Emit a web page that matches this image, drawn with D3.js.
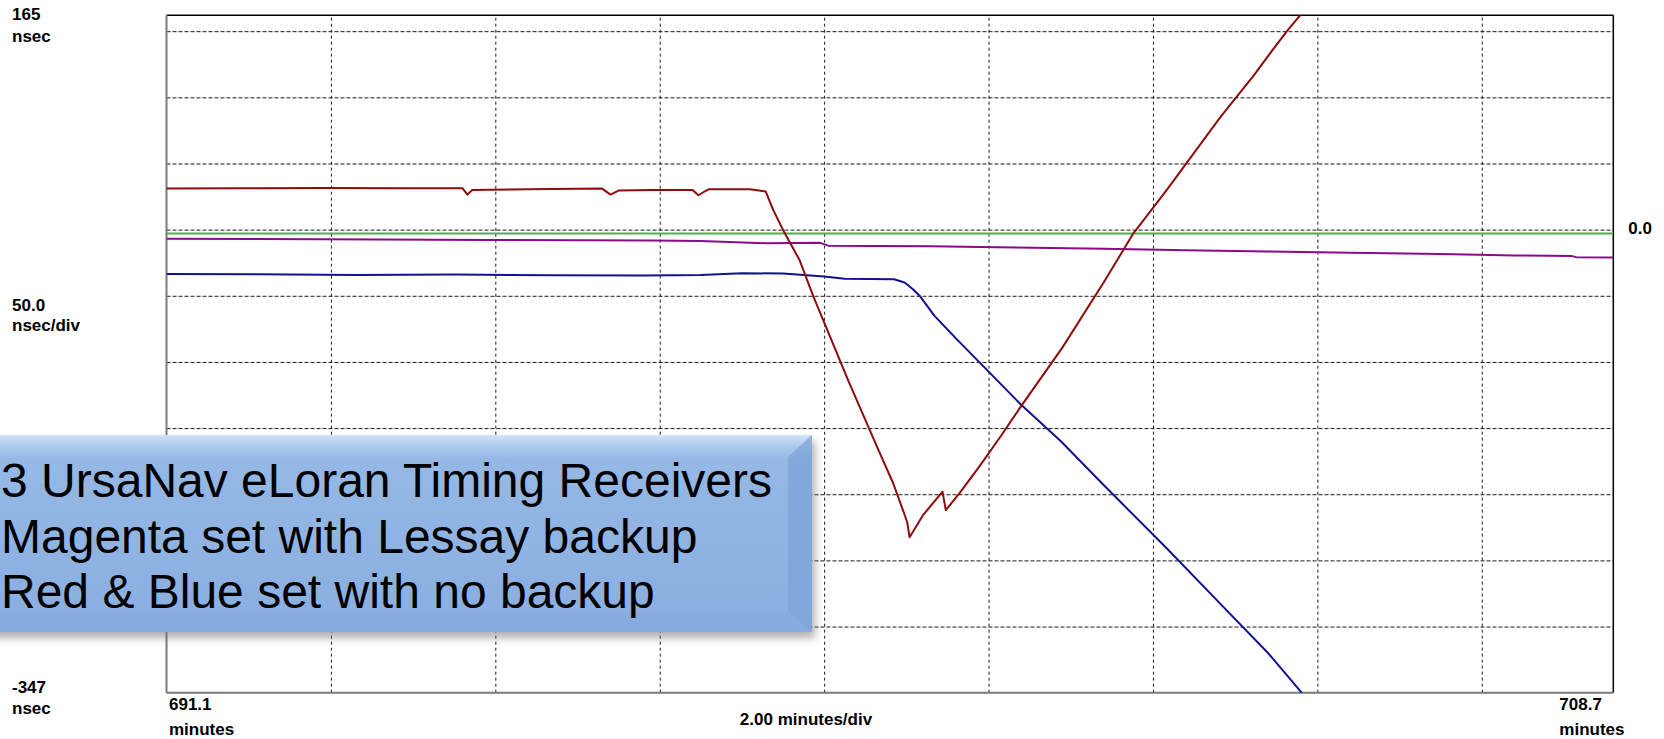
<!DOCTYPE html>
<html>
<head>
<meta charset="utf-8">
<script src="https://cdn.jsdelivr.net/npm/d3@7"></script>
<style>
  html, body { margin: 0; padding: 0; background: #ffffff; }
  svg { display: block; }
  .lbl { font-family: "Liberation Sans", Arial, sans-serif; font-weight: bold; font-size: 17px; fill: #000; }
  .note { font-family: "Liberation Sans", Arial, sans-serif; font-size: 48px; fill: #000; }
</style>
</head>
<body>
<svg id="chart" width="1664" height="739"></svg>
<script>
// Time window (minutes) and phase window (nsec)
const xDomain = [691.1, 708.7];
const yDomain = [-347, 165];
const xGrid = [693.1, 695.1, 697.1, 699.1, 701.1, 703.1, 705.1, 707.1];
const yGrid = [-297, -247, -197, -147, -97, -47, 3, 53, 103, 153];

// Reference line
const greenMin  = [691.1, 708.7];
const greenNsec = [0, 0];

// Magenta receiver (Lessay backup)
const magentaMin  = [691.1, 693.0, 695.0, 697.0, 697.6, 698.4, 699.05, 699.15, 700.4, 701.2, 702.5, 703.5, 704.5, 705.5, 706.6, 707.5, 708.2, 708.25, 708.7];
const magentaNsec = [-3.9, -4.3, -4.8, -5.2, -5.5, -7.3, -7.0, -9.1, -9.5, -10.3, -11.5, -12.5, -13.5, -14.5, -15.5, -16.5, -17.0, -17.8, -18.0];

// Blue receiver (no backup)
const blueMin  = [691.1, 692.2, 693.4, 694.6, 695.8, 696.9, 697.6, 698.1, 698.6, 699.1, 699.35, 699.95, 700.08, 700.18, 700.27, 700.44, 700.7, 701.08, 701.49, 701.98, 702.5, 703.27, 704.0, 704.5, 704.95];
const blueNsec = [-30.5, -30.8, -31.2, -31.0, -31.4, -31.6, -31.2, -29.9, -30.2, -32.5, -34.2, -34.5, -37, -42, -47.6, -62, -79, -103, -129, -157, -190, -238, -285, -317, -350];

// Red receiver (no backup)
const redMin  = [691.1, 692.0, 693.0, 694.0, 694.7, 694.76, 694.82, 695.5, 696.4, 696.5, 696.6, 697.0, 697.5, 697.57, 697.65, 697.7, 698.2, 698.39, 698.48, 698.6, 698.8, 698.97, 699.08, 699.4, 699.76, 699.94, 700.08, 700.11, 700.14, 700.3, 700.54, 700.58, 700.75, 701.0, 701.25, 701.49, 702.0, 702.5, 702.86, 703.28, 703.92, 704.32, 704.57, 704.73, 704.89, 704.95];
const redNsec = [34.0, 34.2, 34.5, 34.3, 34.3, 29.5, 33.0, 33.5, 34.0, 29.5, 32.5, 33.0, 33.0, 29.0, 32.0, 33.6, 33.6, 31.8, 17.9, 2.8, -19.9, -47.6, -64, -112, -163.5, -188.7, -212.7, -218, -229.5, -213, -195, -209, -196, -175, -153, -131, -86, -37, 0, 34, 88, 119, 140, 153, 165, 170];

const seriesDefs = [
  { name: "green",   min: greenMin,   nsec: greenNsec,   color: "#4caf50" },
  { name: "magenta", min: magentaMin, nsec: magentaNsec, color: "#8b0a8b" },
  { name: "blue",    min: blueMin,    nsec: blueNsec,    color: "#12128f" },
  { name: "red",     min: redMin,     nsec: redNsec,     color: "#8e0b0b" }
];

const leftLabels  = { top: ["165", "nsec"], mid: ["50.0", "nsec/div"], bottom: ["-347", "nsec"] };
const bottomLabels = { start: ["691.1", "minutes"], end: ["708.7", "minutes"], scale: "2.00 minutes/div" };
const zeroLabel = "0.0";
const noteLines = ["3 UrsaNav eLoran Timing Receivers", "Magenta set with Lessay backup", "Red & Blue set with no backup"];

const svg = d3.select("#chart");
const plot = { left: 166.5, right: 1613.3, top: 15.3, bottom: 692.7 };

const x = d3.scaleLinear().domain(xDomain).range([plot.left, plot.right]);
const y = d3.scaleLinear().domain(yDomain).range([plot.bottom, plot.top]);

const defs = svg.append("defs");
defs.append("clipPath").attr("id", "plotClip")
  .append("rect")
  .attr("x", plot.left).attr("y", plot.top)
  .attr("width", plot.right - plot.left).attr("height", plot.bottom - plot.top);

// Grid lines drawn with axes
svg.append("g")
  .attr("transform", `translate(0,${plot.bottom})`)
  .call(d3.axisBottom(x).tickValues(xGrid).tickSize(-(plot.bottom - plot.top)).tickFormat(""))
  .call(g => g.select(".domain").remove())
  .call(g => g.selectAll(".tick line").attr("stroke", "#1a1a1a").attr("stroke-width", 1).attr("stroke-dasharray", "3,3"));

svg.append("g")
  .attr("transform", `translate(${plot.left},0)`)
  .call(d3.axisLeft(y).tickValues(yGrid).tickSize(-(plot.right - plot.left)).tickFormat(""))
  .call(g => g.select(".domain").remove())
  .call(g => g.selectAll(".tick line").attr("stroke", "#1a1a1a").attr("stroke-width", 1).attr("stroke-dasharray", "4,2"));

// Frame: black top/right, grey left/bottom
svg.append("line").attr("x1", plot.left).attr("x2", plot.right).attr("y1", plot.top).attr("y2", plot.top)
  .attr("stroke", "#000").attr("stroke-width", 1.5);
svg.append("line").attr("x1", plot.right).attr("x2", plot.right).attr("y1", plot.top).attr("y2", plot.bottom)
  .attr("stroke", "#000").attr("stroke-width", 1.5);
svg.append("line").attr("x1", plot.left).attr("x2", plot.left).attr("y1", plot.top).attr("y2", plot.bottom)
  .attr("stroke", "#7a7a7a").attr("stroke-width", 2);
svg.append("line").attr("x1", plot.left).attr("x2", plot.right).attr("y1", plot.bottom).attr("y2", plot.bottom)
  .attr("stroke", "#7a7a7a").attr("stroke-width", 2);

// Traces
const line = d3.line().x(d => x(d[0])).y(d => y(d[1]));
const traces = svg.append("g").attr("clip-path", "url(#plotClip)");
seriesDefs.forEach(s => {
  const pts = s.min.map((m, i) => [m, s.nsec[i]]);
  traces.append("path")
    .datum(pts)
    .attr("d", line)
    .attr("fill", "none")
    .attr("stroke", s.color)
    .attr("stroke-width", 2)
    .attr("stroke-linejoin", "round");
});

// Scale labels
const lx = 12;
function stack(lines, xPos, y0, gap, anchor) {
  lines.forEach((t, i) => {
    svg.append("text").attr("class", "lbl")
      .attr("x", xPos).attr("y", y0 + i * gap)
      .attr("text-anchor", anchor || "start")
      .text(t);
  });
}
stack(leftLabels.top, lx, plot.top + 5, 22);
stack(leftLabels.mid, lx, 311, 19.5);
stack(leftLabels.bottom, lx, plot.bottom + 0.5, 21);
stack(bottomLabels.start, x(xDomain[0]) + 2.5, plot.bottom + 17, 25);
stack(bottomLabels.end, x(xDomain[1]) - 54, plot.bottom + 17, 25);
svg.append("text").attr("class", "lbl")
  .attr("x", 806).attr("y", plot.bottom + 32.5)
  .attr("text-anchor", "middle")
  .text(bottomLabels.scale);
svg.append("text").attr("class", "lbl")
  .attr("x", plot.right + 15).attr("y", y(0) + 0.5)
  .text(zeroLabel);

// Callout box
const grad = defs.append("linearGradient").attr("id", "boxFill")
  .attr("x1", 0).attr("y1", 0).attr("x2", 0).attr("y2", 1);
grad.append("stop").attr("offset", "0%").attr("stop-color", "#d2e5f8");
grad.append("stop").attr("offset", "5%").attr("stop-color", "#afcbee");
grad.append("stop").attr("offset", "12%").attr("stop-color", "#95b8e5");
grad.append("stop").attr("offset", "100%").attr("stop-color", "#89aee0");

const blur = defs.append("filter").attr("id", "boxShadow")
  .attr("x", "-10%").attr("y", "-10%").attr("width", "130%").attr("height", "140%");
blur.append("feGaussianBlur").attr("stdDeviation", 4);

const box = { x0: -12, x1: 812, y0: 435, y1: 632 };
const note = svg.append("g");
note.append("rect")
  .attr("x", box.x0 + 3).attr("y", box.y0 + 6)
  .attr("width", box.x1 - box.x0).attr("height", box.y1 - box.y0)
  .attr("fill", "#6f6f6f").attr("opacity", 0.55)
  .attr("filter", "url(#boxShadow)");
note.append("rect")
  .attr("x", box.x0).attr("y", box.y0)
  .attr("width", box.x1 - box.x0).attr("height", box.y1 - box.y0)
  .attr("fill", "url(#boxFill)");
// right-hand bevel
note.append("polygon")
  .attr("points", [[box.x1, box.y0], [box.x1, box.y1], [box.x1 - 24, box.y1 - 20], [box.x1 - 24, box.y0 + 22]].map(p => p.join(",")).join(" "))
  .attr("fill", "#7da3d6").attr("opacity", 0.75);
// lower bevel
note.append("polygon")
  .attr("points", [[box.x0, box.y1], [box.x1, box.y1], [box.x1 - 24, box.y1 - 20], [box.x0, box.y1 - 20]].map(p => p.join(",")).join(" "))
  .attr("fill", "#86abdd").attr("opacity", 0.6);

noteLines.forEach((t, i) => {
  note.append("text").attr("class", "note")
    .attr("x", 1).attr("y", 497 + i * 55.5)
    .text(t);
});
</script>
</body>
</html>
